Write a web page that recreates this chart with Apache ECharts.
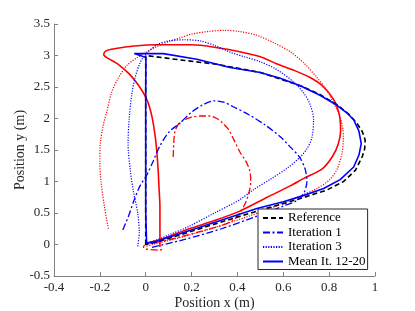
<!DOCTYPE html>
<html>
<head>
<meta charset="utf-8">
<script src="https://cdn.jsdelivr.net/npm/echarts@6/dist/echarts.min.js"></script>
<style>
html,body{margin:0;padding:0;background:#fff;}
#chart{width:415px;height:311px;}
</style>
</head>
<body>
<div id="chart"></div>
<script>
// Axis ticks
const xTicks = [-0.4, -0.2, 0, 0.2, 0.4, 0.6, 0.8, 1];
const yTicks = [-0.5, 0, 0.5, 1, 1.5, 2, 2.5, 3, 3.5];

// Series names (legend)
const legendNames = ['Reference', 'Iteration 1', 'Iteration 3', 'Mean It. 12-20'];

// Reference path [x, y]
const reference = [[0,0],[0,0.5],[0,1],[0,1.5],[0,2],[0,2.5],[0,3],[0.15,2.93],[0.31,2.86],[0.5,2.73],[0.674,2.52],[0.76,2.38],[0.834,2.22],[0.885,2.07],[0.92,1.93],[0.945,1.79],[0.957,1.66],[0.955,1.52],[0.945,1.4],[0.915,1.18],[0.863,1.0],[0.79,0.865],[0.70,0.76],[0.62,0.67],[0.485,0.53],[0.27,0.29],[0.05,0.04],[0,0]];

// Iteration 1 (blue dash-dot)
const iteration1 = [[-0.1,0.23],[-0.075,0.45],[-0.054,0.67],[-0.025,0.93],[0.004,1.1],[0.03,1.3],[0.06,1.55],[0.1,1.78],[0.15,1.93],[0.2,2.1],[0.25,2.22],[0.3,2.28],[0.34,2.26],[0.38,2.19],[0.45,2.06],[0.52,1.9],[0.587,1.71],[0.63,1.55],[0.67,1.39],[0.695,1.2],[0.703,1.0],[0.69,0.82],[0.66,0.7],[0.6,0.61],[0.485,0.45],[0.33,0.25],[0.17,0.08],[0.02,-0.05]];

// Iteration 3 (blue dotted)
const iteration3 = [[-0.035,-0.03],[-0.028,0.2],[-0.035,0.5],[-0.054,0.85],[-0.068,1.2],[-0.077,1.6],[-0.072,2.0],[-0.06,2.4],[-0.047,2.64],[-0.025,2.88],[-0.005,3.0],[0.048,3.17],[0.1,3.23],[0.17,3.25],[0.24,3.23],[0.3,3.16],[0.37,3.05],[0.43,2.98],[0.5,2.9],[0.57,2.78],[0.645,2.58],[0.69,2.4],[0.717,2.22],[0.732,1.98],[0.725,1.7],[0.705,1.53],[0.674,1.39],[0.62,1.22],[0.55,1.05],[0.47,0.87],[0.41,0.71],[0.3,0.5],[0.19,0.29],[0.1,0.15],[0.02,0.03]];

// Mean of iterations 12-20 (blue solid)
const meanIt = [[0.004,0.02],[0,0.5],[0,1],[0,1.5],[0,2],[0,2.5],[0.001,2.97],[-0.05,3.03],[0.077,3.03],[0.223,2.94],[0.368,2.81],[0.5,2.73],[0.587,2.64],[0.674,2.52],[0.76,2.37],[0.834,2.21],[0.88,2.08],[0.907,1.98],[0.93,1.8],[0.94,1.6],[0.93,1.42],[0.907,1.23],[0.848,1.03],[0.776,0.89],[0.674,0.76],[0.6,0.68],[0.485,0.57],[0.266,0.31],[0.048,0.05],[0.004,0.02]];

// Red solid
const redSolid = [[0.062,-0.04],[0.062,0.3],[0.062,0.6],[0.058,0.9],[0.055,1.13],[0.05,1.4],[0.042,1.7],[0.026,2.05],[0.005,2.3],[-0.03,2.52],[-0.07,2.7],[-0.12,2.86],[-0.162,2.95],[-0.183,3.01],[-0.175,3.07],[-0.13,3.11],[-0.05,3.15],[0.05,3.17],[0.2,3.17],[0.32,3.12],[0.41,3.06],[0.5,2.98],[0.57,2.87],[0.65,2.76],[0.717,2.65],[0.77,2.52],[0.82,2.3],[0.845,2.05],[0.85,1.8],[0.84,1.6],[0.815,1.4],[0.77,1.2],[0.69,1.05],[0.63,0.93],[0.53,0.75],[0.41,0.53],[0.3,0.38],[0.19,0.25],[0.08,0.1],[0.0,0.02]];

// Red dotted
const redDotted = [[-0.163,0.25],[-0.18,0.6],[-0.195,1.0],[-0.2,1.3],[-0.198,1.6],[-0.185,1.9],[-0.17,2.1],[-0.15,2.4],[-0.12,2.64],[-0.08,2.85],[-0.04,2.96],[0.0,3.05],[0.048,3.14],[0.1,3.22],[0.15,3.28],[0.2,3.34],[0.27,3.38],[0.34,3.4],[0.41,3.38],[0.485,3.32],[0.56,3.2],[0.63,3.06],[0.69,2.88],[0.747,2.65],[0.79,2.45],[0.82,2.24],[0.845,2.05],[0.858,1.87],[0.862,1.7],[0.856,1.45],[0.835,1.2],[0.8,1.02],[0.747,0.89],[0.66,0.75],[0.6,0.66],[0.543,0.575],[0.45,0.45],[0.3,0.27],[0.15,0.11],[0.03,0.0],[0.0,-0.03]];

// Red dash-dot
const redDashDot = [[0.12,1.39],[0.122,1.6],[0.128,1.8],[0.145,1.92],[0.17,1.98],[0.2,2.02],[0.24,2.04],[0.28,2.04],[0.31,2.0],[0.335,1.93],[0.36,1.83],[0.385,1.66],[0.412,1.46],[0.44,1.3],[0.455,1.15],[0.458,1.0],[0.45,0.82],[0.435,0.66],[0.41,0.5],[0.383,0.39],[0.33,0.3],[0.25,0.22],[0.15,0.12],[0.06,0.04],[0.0,0.0],[-0.01,-0.04],[0.0,-0.07],[0.06,-0.09],[0.08,-0.06]];

const FONT = '"Liberation Serif", "Times New Roman", serif';
const DASHDOT = [7, 2.5, 2, 2.5];
const DOTTED = [1.2, 1.4];
const DASHED = [5, 3];

function lineSeries(name, data, color, width, type, smooth, z) {
  return {
    name: name, type: 'line', data: data, symbol: 'none', showSymbol: false,
    smooth: smooth, z: z, silent: true, animation: false,
    lineStyle: { color: color, width: width, type: type },
    itemStyle: { color: color }
  };
}

const chart = echarts.init(document.getElementById('chart'), null, { renderer: 'canvas' });
chart.setOption({
  animation: false,
  backgroundColor: '#fff',
  grid: { left: 54, right: 40, top: 24, bottom: 35, containLabel: false, outerBoundsMode: 'none' },
  xAxis: {
    type: 'value', min: xTicks[0], max: xTicks[xTicks.length - 1], interval: 0.2,
    name: 'Position x (m)', nameLocation: 'middle', nameGap: 20, nameMoveOverlap: false,
    nameTextStyle: { fontFamily: FONT, fontSize: 14, color: '#262626' },
    axisLine: { show: true, onZero: false, lineStyle: { color: '#808080', width: 1 } },
    axisTick: { show: true, inside: true, length: 4, lineStyle: { color: '#808080' } },
    axisLabel: { fontFamily: FONT, fontSize: 13, color: '#262626', margin: 5,
      formatter: v => String(Math.round(v * 10) / 10) },
    splitLine: { show: false }
  },
  yAxis: {
    type: 'value', min: yTicks[0], max: yTicks[yTicks.length - 1], interval: 0.5,
    name: 'Position y (m)', nameLocation: 'middle', nameGap: 27, nameMoveOverlap: false,
    nameTextStyle: { fontFamily: FONT, fontSize: 14, color: '#262626' },
    axisLine: { show: true, onZero: false, lineStyle: { color: '#808080', width: 1 } },
    axisTick: { show: true, inside: true, length: 4, lineStyle: { color: '#808080' } },
    axisLabel: { fontFamily: FONT, fontSize: 13, color: '#262626', margin: 4,
      formatter: v => String(Math.round(v * 10) / 10) },
    splitLine: { show: false }
  },
  legend: {
    data: legendNames,
    orient: 'vertical', left: 258, top: 209,
    padding: [2, 2, 1, 4],
    itemWidth: 20, itemHeight: 14, itemGap: 0.5,
    itemStyle: { opacity: 0 },
    borderColor: '#262626', borderWidth: 1, backgroundColor: '#fff',
    textStyle: { fontFamily: FONT, fontSize: 13, color: '#000', lineHeight: 14 },
    selectedMode: false
  },
  series: [
    lineSeries('redDotted', redDotted, '#ff0000', 1.2, DOTTED, 0.3, 2),
    lineSeries('redDashDot', redDashDot, '#ff0000', 1.3, DASHDOT, 0.3, 2),
    lineSeries('redSolid', redSolid, '#ff0000', 1.6, 'solid', 0.3, 2),
    lineSeries('Reference', reference, '#000000', 1.6, DASHED, false, 3),
    lineSeries('Iteration 1', iteration1, '#0000ff', 1.3, DASHDOT, 0.3, 3),
    lineSeries('Iteration 3', iteration3, '#0000ff', 1.2, DOTTED, 0.3, 3),
    lineSeries('Mean It. 12-20', meanIt, '#0000ff', 1.6, 'solid', false, 4)
  ]
});
</script>
</body>
</html>
